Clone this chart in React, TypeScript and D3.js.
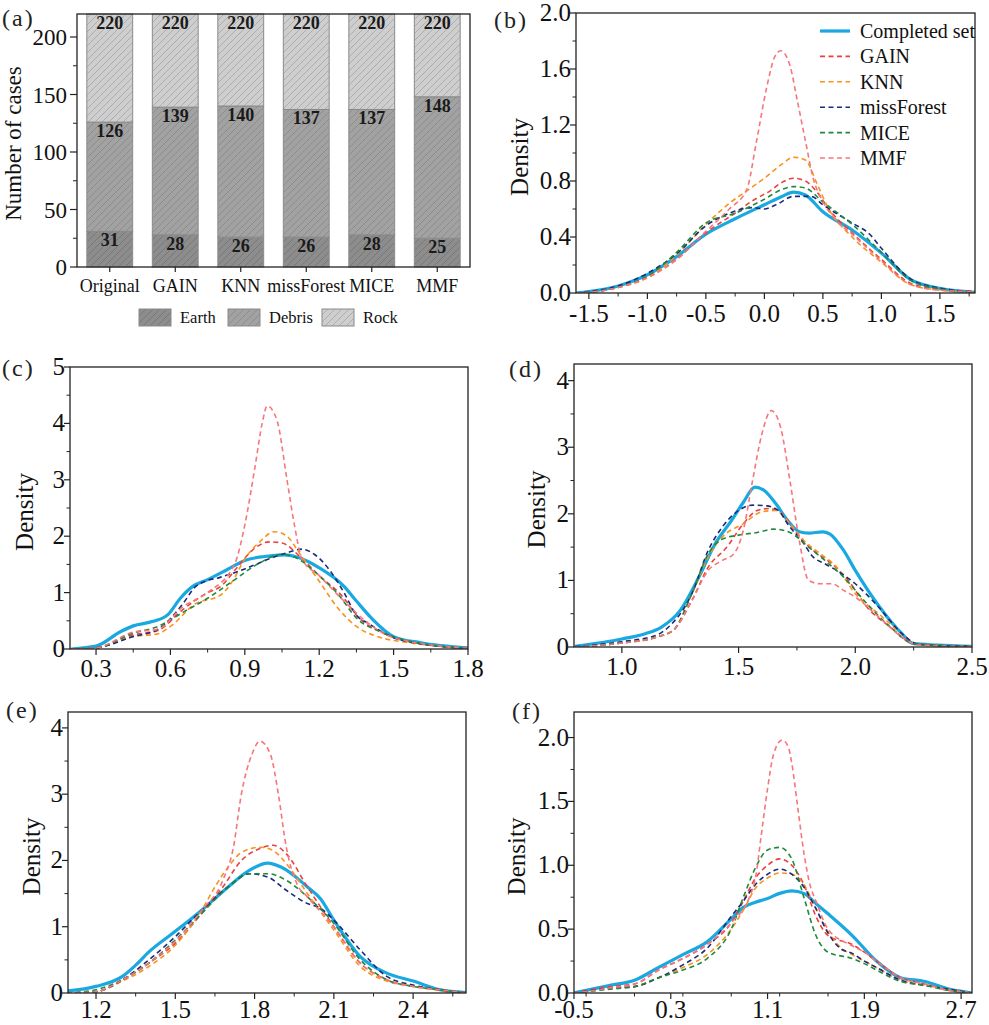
import React from "react";
import * as d3 from "d3";

type P = [number, number];

// ---------- Panel (a) data ----------
const methods = ["Original", "GAIN", "KNN", "missForest", "MICE", "MMF"];
const earthCounts = [31, 28, 26, 26, 28, 25];
const debrisCumulative = [126, 139, 140, 137, 137, 148];
const totalCounts = [220, 220, 220, 220, 220, 220];
const barLegend = ["Earth", "Debris", "Rock"];

// ---------- Density series ----------
const seriesNames = ["Completed set", "GAIN", "KNN", "missForest", "MICE", "MMF"];

const bCompleted: P[] = [[-1.61,0],[-1.5,0.01],[-1.25,0.05],[-1.0,0.13],[-0.75,0.26],[-0.5,0.42],[-0.25,0.53],[0,0.63],[0.15,0.69],[0.25,0.72],[0.35,0.7],[0.5,0.58],[0.75,0.45],[1.0,0.285],[1.25,0.095],[1.5,0.033],[1.8,0.005]];
const bGain: P[] = [[-1.61,0],[-1.5,0.005],[-1.25,0.04],[-1.0,0.11],[-0.75,0.24],[-0.5,0.43],[-0.25,0.57],[-0.1,0.66],[0.05,0.73],[0.15,0.79],[0.25,0.82],[0.35,0.8],[0.45,0.72],[0.55,0.6],[0.75,0.43],[1.0,0.24],[1.25,0.07],[1.5,0.025],[1.8,0.01]];
const bKnn: P[] = [[-1.61,0],[-1.5,0.005],[-1.25,0.04],[-1.0,0.11],[-0.75,0.27],[-0.5,0.49],[-0.3,0.64],[-0.15,0.73],[0,0.82],[0.15,0.92],[0.25,0.97],[0.35,0.95],[0.45,0.78],[0.55,0.6],[0.75,0.4],[1.0,0.22],[1.25,0.06],[1.5,0.02],[1.8,0.005]];
const bMissForest: P[] = [[-1.61,0],[-1.5,0.01],[-1.25,0.05],[-1.0,0.14],[-0.75,0.28],[-0.5,0.48],[-0.3,0.57],[-0.1,0.61],[0.0,0.6],[0.1,0.63],[0.25,0.69],[0.4,0.69],[0.5,0.63],[0.75,0.5],[0.9,0.42],[1.0,0.32],[1.25,0.1],[1.5,0.035],[1.8,0.01]];
const bMice: P[] = [[-1.61,0],[-1.5,0.005],[-1.25,0.04],[-1.0,0.12],[-0.75,0.29],[-0.5,0.5],[-0.25,0.57],[0,0.67],[0.15,0.74],[0.25,0.76],[0.35,0.75],[0.5,0.65],[0.75,0.49],[1.0,0.29],[1.25,0.09],[1.5,0.03],[1.8,0.005]];
const bMmf: P[] = [[-1.61,0],[-1.5,0.005],[-1.25,0.04],[-1.0,0.11],[-0.75,0.24],[-0.5,0.44],[-0.3,0.6],[-0.15,0.74],[-0.07,1.07],[0.02,1.47],[0.09,1.69],[0.14,1.73],[0.22,1.62],[0.28,1.38],[0.35,1.09],[0.42,0.81],[0.49,0.67],[0.6,0.53],[0.75,0.42],[1.0,0.23],[1.25,0.06],[1.5,0.02],[1.8,0.01]];

const cCompleted: P[] = [[0.2,0],[0.3,0.05],[0.4,0.31],[0.45,0.41],[0.53,0.49],[0.59,0.61],[0.64,0.9],[0.69,1.11],[0.75,1.23],[0.83,1.41],[0.9,1.57],[0.98,1.64],[1.06,1.67],[1.11,1.63],[1.2,1.44],[1.3,1.11],[1.35,0.85],[1.41,0.55],[1.5,0.22],[1.61,0.11],[1.8,0.02]];
const cGain: P[] = [[0.2,0],[0.3,0.02],[0.45,0.25],[0.55,0.33],[0.65,0.7],[0.75,1.0],[0.8,1.1],[0.87,1.45],[0.93,1.75],[1.0,1.9],[1.05,1.88],[1.12,1.65],[1.2,1.3],[1.3,0.9],[1.35,0.6],[1.45,0.3],[1.55,0.15],[1.8,0.01]];
const cKnn: P[] = [[0.2,0],[0.3,0.02],[0.45,0.22],[0.55,0.27],[0.6,0.4],[0.7,0.8],[0.8,0.95],[0.85,1.2],[0.9,1.6],[0.96,1.9],[1.02,2.08],[1.07,2.0],[1.12,1.7],[1.2,1.2],[1.28,0.7],[1.35,0.4],[1.45,0.2],[1.55,0.12],[1.8,0.01]];
const cMissForest: P[] = [[0.2,0],[0.3,0.02],[0.45,0.22],[0.55,0.35],[0.65,0.8],[0.7,1.1],[0.74,1.2],[0.8,1.27],[0.9,1.42],[1.0,1.6],[1.08,1.72],[1.13,1.77],[1.18,1.68],[1.25,1.35],[1.3,1.0],[1.35,0.6],[1.4,0.45],[1.5,0.2],[1.6,0.1],[1.8,0.01]];
const cMice: P[] = [[0.2,0],[0.3,0.02],[0.45,0.28],[0.55,0.4],[0.65,0.65],[0.75,0.9],[0.85,1.2],[0.95,1.5],[1.05,1.68],[1.1,1.63],[1.2,1.3],[1.28,0.95],[1.35,0.55],[1.45,0.3],[1.55,0.15],[1.8,0.01]];
const cMmf: P[] = [[0.2,0],[0.3,0.02],[0.45,0.3],[0.55,0.35],[0.65,0.75],[0.75,1.0],[0.86,1.52],[0.9,2.2],[0.94,3.2],[0.97,4.0],[0.99,4.31],[1.03,4.05],[1.07,3.0],[1.1,2.2],[1.13,1.6],[1.2,1.3],[1.3,0.85],[1.4,0.45],[1.5,0.2],[1.8,0.01]];

const dCompleted: P[] = [[0.8,0.01],[1.0,0.12],[1.1,0.2],[1.17,0.3],[1.25,0.55],[1.33,1.05],[1.4,1.55],[1.47,1.9],[1.52,2.17],[1.57,2.4],[1.61,2.35],[1.66,2.15],[1.71,1.9],[1.76,1.73],[1.8,1.71],[1.86,1.73],[1.89,1.7],[1.95,1.45],[2.0,1.15],[2.1,0.62],[2.2,0.2],[2.25,0.05],[2.35,0.03],[2.5,0.01]];
const dGain: P[] = [[0.8,0],[1.0,0.06],[1.15,0.15],[1.22,0.25],[1.3,0.7],[1.37,1.2],[1.45,1.5],[1.52,1.85],[1.58,2.05],[1.63,2.08],[1.7,1.95],[1.75,1.7],[1.82,1.45],[1.9,1.25],[1.97,1.0],[2.05,0.6],[2.15,0.3],[2.25,0.05],[2.5,0.005]];
const dKnn: P[] = [[0.8,0],[1.0,0.06],[1.15,0.15],[1.22,0.25],[1.3,0.8],[1.37,1.35],[1.43,1.65],[1.52,1.85],[1.6,2.03],[1.66,2.05],[1.72,1.85],[1.78,1.6],[1.85,1.4],[1.92,1.2],[2.0,0.8],[2.1,0.5],[2.2,0.2],[2.27,0.04],[2.5,0.005]];
const dMissForest: P[] = [[0.8,0.005],[1.0,0.08],[1.15,0.18],[1.2,0.3],[1.3,0.8],[1.37,1.45],[1.43,1.8],[1.5,2.05],[1.56,2.13],[1.62,2.12],[1.67,2.05],[1.72,1.8],[1.77,1.6],[1.82,1.35],[1.87,1.25],[1.92,1.15],[2.0,0.95],[2.1,0.6],[2.2,0.2],[2.27,0.04],[2.5,0.01]];
const dMice: P[] = [[0.8,0],[1.0,0.06],[1.15,0.15],[1.22,0.25],[1.3,0.8],[1.37,1.4],[1.43,1.62],[1.5,1.68],[1.58,1.72],[1.65,1.77],[1.72,1.72],[1.8,1.5],[1.87,1.3],[1.95,1.05],[2.05,0.65],[2.15,0.3],[2.25,0.05],[2.5,0.005]];
const dMmf: P[] = [[0.8,0],[1.0,0.06],[1.15,0.15],[1.22,0.25],[1.3,0.7],[1.37,1.15],[1.43,1.3],[1.48,1.4],[1.52,1.75],[1.56,2.5],[1.6,3.2],[1.64,3.55],[1.68,3.3],[1.72,2.5],[1.76,1.6],[1.8,1.0],[1.85,0.95],[1.9,0.95],[1.95,0.85],[2.0,0.75],[2.1,0.45],[2.2,0.15],[2.27,0.03],[2.5,0.005]];

const eCompleted: P[] = [[1.09,0.03],[1.2,0.1],[1.3,0.25],[1.35,0.42],[1.4,0.62],[1.5,0.93],[1.6,1.25],[1.7,1.6],[1.78,1.85],[1.85,1.96],[1.9,1.9],[2.0,1.6],[2.05,1.42],[2.1,1.1],[2.2,0.55],[2.3,0.3],[2.4,0.18],[2.5,0.05],[2.6,0.005]];
const eGain: P[] = [[1.09,0],[1.2,0.02],[1.3,0.2],[1.4,0.45],[1.5,0.75],[1.6,1.2],[1.68,1.6],[1.75,2.0],[1.82,2.18],[1.87,2.23],[1.92,2.1],[2.0,1.6],[2.1,1.0],[2.2,0.45],[2.3,0.2],[2.4,0.1],[2.5,0.05],[2.6,0]];
const eKnn: P[] = [[1.09,0],[1.2,0.02],[1.3,0.18],[1.4,0.4],[1.5,0.72],[1.6,1.25],[1.65,1.6],[1.7,1.9],[1.75,2.12],[1.82,2.2],[1.87,2.15],[1.93,1.9],[2.0,1.5],[2.1,0.95],[2.2,0.4],[2.3,0.18],[2.4,0.1],[2.5,0.04],[2.6,0]];
const eMissForest: P[] = [[1.09,0],[1.2,0.02],[1.3,0.2],[1.4,0.5],[1.5,0.85],[1.6,1.25],[1.7,1.6],[1.78,1.8],[1.85,1.75],[1.92,1.55],[2.0,1.35],[2.05,1.28],[2.1,1.1],[2.2,0.65],[2.3,0.25],[2.4,0.12],[2.5,0.05],[2.6,0]];
const eMice: P[] = [[1.09,0],[1.2,0.05],[1.3,0.2],[1.4,0.45],[1.5,0.8],[1.6,1.2],[1.7,1.6],[1.78,1.8],[1.85,1.8],[1.92,1.7],[2.0,1.45],[2.1,1.05],[2.2,0.5],[2.3,0.2],[2.4,0.1],[2.5,0.05],[2.6,0]];
const eMmf: P[] = [[1.09,0],[1.2,0.02],[1.3,0.2],[1.4,0.45],[1.5,0.78],[1.6,1.25],[1.68,1.7],[1.72,2.2],[1.75,3.0],[1.79,3.6],[1.82,3.8],[1.86,3.6],[1.89,3.0],[1.92,2.2],[1.96,1.65],[2.0,1.45],[2.1,1.0],[2.2,0.45],[2.3,0.2],[2.4,0.1],[2.5,0.05],[2.6,0]];

const fCompleted: P[] = [[-0.5,0],[-0.2,0.06],[0.0,0.1],[0.2,0.2],[0.4,0.3],[0.6,0.4],[0.8,0.58],[0.9,0.67],[1.0,0.71],[1.1,0.74],[1.2,0.78],[1.3,0.8],[1.4,0.78],[1.5,0.7],[1.6,0.62],[1.8,0.45],[2.0,0.25],[2.2,0.12],[2.4,0.09],[2.6,0.03],[2.79,0]];
const fGain: P[] = [[-0.5,0],[-0.2,0.05],[0.0,0.07],[0.2,0.18],[0.4,0.27],[0.6,0.38],[0.8,0.55],[0.9,0.72],[1.0,0.9],[1.1,1.0],[1.2,1.05],[1.3,1.0],[1.4,0.85],[1.5,0.6],[1.6,0.45],[1.8,0.38],[1.9,0.32],[2.0,0.25],[2.2,0.12],[2.4,0.07],[2.6,0.02],[2.79,0]];
const fKnn: P[] = [[-0.5,0],[-0.2,0.04],[0.0,0.05],[0.2,0.12],[0.4,0.2],[0.6,0.3],[0.8,0.5],[0.9,0.65],[1.0,0.82],[1.1,0.9],[1.2,0.94],[1.3,0.93],[1.4,0.85],[1.5,0.66],[1.6,0.48],[1.7,0.36],[1.8,0.3],[1.9,0.25],[2.0,0.2],[2.2,0.1],[2.4,0.06],[2.6,0.03],[2.79,0]];
const fMissForest: P[] = [[-0.5,0],[-0.2,0.04],[0.0,0.05],[0.2,0.12],[0.4,0.22],[0.6,0.35],[0.8,0.6],[0.9,0.72],[1.0,0.85],[1.1,0.93],[1.2,0.97],[1.3,0.93],[1.4,0.83],[1.5,0.66],[1.6,0.47],[1.7,0.35],[1.8,0.31],[1.9,0.25],[2.0,0.2],[2.2,0.1],[2.4,0.06],[2.6,0.03],[2.79,0]];
const fMice: P[] = [[-0.5,0],[-0.2,0.03],[0.0,0.05],[0.2,0.12],[0.4,0.18],[0.6,0.27],[0.8,0.5],[0.9,0.75],[1.0,0.98],[1.1,1.12],[1.2,1.14],[1.3,1.05],[1.4,0.75],[1.5,0.45],[1.6,0.32],[1.8,0.27],[1.9,0.23],[2.0,0.18],[2.2,0.09],[2.4,0.06],[2.6,0.02],[2.79,0]];
const fMmf: P[] = [[-0.5,0],[-0.2,0.04],[0.0,0.07],[0.2,0.18],[0.4,0.27],[0.6,0.38],[0.8,0.55],[0.95,0.75],[1.0,0.9],[1.05,1.25],[1.1,1.6],[1.15,1.87],[1.22,1.98],[1.27,1.93],[1.3,1.8],[1.35,1.45],[1.4,1.1],[1.45,0.85],[1.5,0.72],[1.6,0.5],[1.8,0.37],[1.9,0.32],[2.0,0.25],[2.2,0.12],[2.4,0.07],[2.6,0.02],[2.79,0]];

// ---------- Styles ----------
const FONT = "'Liberation Serif', 'Times New Roman', serif";
const seriesColors = ["#19a8e0", "#e9413f", "#f7931e", "#1c2a7c", "#1e8a3c", "#f7757b"];
const barFills = ["#8d8d8d", "#a2a2a2", "#cecece"];
const hatchStrokes = ["#727272", "#868686", "#a6a6a6"];

interface PanelCfg {
  label: string;
  box: { l: number; r: number; t: number; b: number };
  labelPos: [number, number];
  titleX: number;
  xDomain: [number, number];
  yDomain: [number, number];
  xTicks: [number, number, number];
  xMinorStep: number;
  yTicks: [number, number, number];
  yMinorStep: number;
  yFmt: (v: number) => string;
  series: P[][];
  legend?: boolean;
  xLabelDy: number;
}

const fmt1 = (v: number) => (Math.abs(v) < 1e-9 ? "0.0" : v.toFixed(1));
const fmt0 = (v: number) => d3.format("d")(Math.round(v));

const panels: PanelCfg[] = [
  {
    label: "(b)", box: { l: 576, r: 975, t: 13, b: 293 }, labelPos: [494, 28], titleX: 522,
    xDomain: [-1.61, 1.8], yDomain: [0, 2.0], xTicks: [-1.5, 1.5, 0.5], xMinorStep: 0.25,
    yTicks: [0, 2.0, 0.4], yMinorStep: 0.2, yFmt: fmt1,
    series: [bCompleted, bGain, bKnn, bMissForest, bMice, bMmf], legend: true, xLabelDy: 29,
  },
  {
    label: "(c)", box: { l: 70, r: 468, t: 367, b: 649 }, labelPos: [2, 376], titleX: 27,
    xDomain: [0.195, 1.8], yDomain: [0, 5], xTicks: [0.3, 1.8, 0.3], xMinorStep: 0.15,
    yTicks: [0, 5, 1], yMinorStep: 0.5, yFmt: fmt0,
    series: [cCompleted, cGain, cKnn, cMissForest, cMice, cMmf], xLabelDy: 28,
  },
  {
    label: "(d)", box: { l: 574, r: 972, t: 364, b: 647 }, labelPos: [509, 377], titleX: 539,
    xDomain: [0.795, 2.5], yDomain: [0, 4.25], xTicks: [1.0, 2.5, 0.5], xMinorStep: 0.25,
    yTicks: [0, 4, 1], yMinorStep: 0.5, yFmt: fmt0,
    series: [dCompleted, dGain, dKnn, dMissForest, dMice, dMmf], xLabelDy: 28,
  },
  {
    label: "(e)", box: { l: 68, r: 466, t: 712, b: 993 }, labelPos: [6, 718], titleX: 34,
    xDomain: [1.094, 2.6], yDomain: [0, 4.24], xTicks: [1.2, 2.4, 0.3], xMinorStep: 0.15,
    yTicks: [0, 4, 1], yMinorStep: 0.5, yFmt: fmt0,
    series: [eCompleted, eGain, eKnn, eMissForest, eMice, eMmf], xLabelDy: 25,
  },
  {
    label: "(f)", box: { l: 574, r: 972, t: 712, b: 993 }, labelPos: [512, 719], titleX: 519,
    xDomain: [-0.5, 2.79], yDomain: [0, 2.2], xTicks: [-0.5, 2.7, 0.8], xMinorStep: 0.4,
    yTicks: [0, 2.0, 0.5], yMinorStep: 0.25, yFmt: fmt1,
    series: [fCompleted, fGain, fKnn, fMissForest, fMice, fMmf], xLabelDy: 25,
  },
];

const rangeInc = (a: number, b: number, s: number) => d3.range(a, b + s * 1e-6, s).map((v) => Math.round(v * 1e6) / 1e6);

function DensityPanel({ cfg, idx }: { cfg: PanelCfg; idx: number }) {
  const { l, r, t, b } = cfg.box;
  const x = d3.scaleLinear().domain(cfg.xDomain).range([l, r]);
  const y = d3.scaleLinear().domain(cfg.yDomain).range([b, t]);
  const line = d3.line<P>().x((d) => x(d[0])).y((d) => y(d[1])).curve(d3.curveMonotoneX);
  const xMajor = rangeInc(cfg.xTicks[0], cfg.xTicks[1], cfg.xTicks[2]);
  const yMajor = rangeInc(cfg.yTicks[0], cfg.yTicks[1], cfg.yTicks[2]);
  const xMinor = rangeInc(Math.ceil(cfg.xDomain[0] / cfg.xMinorStep) * cfg.xMinorStep, cfg.xDomain[1], cfg.xMinorStep)
    .filter((v) => !xMajor.some((m) => Math.abs(m - v) < 1e-6) && v >= cfg.xDomain[0] && v <= cfg.xDomain[1]);
  const yMinor = rangeInc(0, cfg.yDomain[1], cfg.yMinorStep).filter((v) => !yMajor.some((m) => Math.abs(m - v) < 1e-6));
  const clipId = `clip-${idx}`;
  return (
    <g>
      <defs>
        <clipPath id={clipId}>
          <rect x={l} y={t} width={r - l} height={b - t} />
        </clipPath>
      </defs>
      <g clipPath={`url(#${clipId})`}>
        {[0, 1, 2, 3, 4, 5].map((i) => (
          <path
            key={i}
            d={line(cfg.series[i]) || ""}
            fill="none"
            stroke={seriesColors[i]}
            strokeWidth={i === 0 ? 3.2 : 1.6}
            strokeDasharray={i === 0 ? undefined : "5,3.5"}
            strokeLinejoin="round"
          />
        ))}
      </g>
      <rect x={l} y={t} width={r - l} height={b - t} fill="none" stroke="#222" strokeWidth={1.3} />
      {xMajor.map((v) => (
        <g key={"xm" + v}>
          <line x1={x(v)} x2={x(v)} y1={b} y2={b + 6} stroke="#222" strokeWidth={1.2} />
          <text x={x(v)} y={b + cfg.xLabelDy} textAnchor="middle" fontSize={25} fontFamily={FONT} fill="#111">
            {fmt1(v)}
          </text>
        </g>
      ))}
      {xMinor.map((v) => (
        <line key={"xn" + v} x1={x(v)} x2={x(v)} y1={b} y2={b + 3.5} stroke="#222" strokeWidth={1} />
      ))}
      {yMajor.map((v) => (
        <g key={"ym" + v}>
          <line x1={l - 6} x2={l} y1={y(v)} y2={y(v)} stroke="#222" strokeWidth={1.2} />
          <text x={l - 5} y={y(v) + 8} textAnchor="end" fontSize={25} fontFamily={FONT} fill="#111">
            {cfg.yFmt(v)}
          </text>
        </g>
      ))}
      {yMinor.map((v) => (
        <line key={"yn" + v} x1={l - 3.5} x2={l} y1={y(v)} y2={y(v)} stroke="#222" strokeWidth={1} />
      ))}
      <text
        transform={`translate(${cfg.titleX},${(t + b) / 2 + 4}) rotate(-90)`}
        textAnchor="middle"
        dominantBaseline="middle"
        fontSize={25}
        fontFamily={FONT}
        fill="#111"
      >
        Density
      </text>
      <text x={cfg.labelPos[0]} y={cfg.labelPos[1]} fontSize={24} fontFamily={FONT} fill="#222" letterSpacing={2}>
        {cfg.label}
      </text>
      {cfg.legend &&
        seriesNames.map((name, i) => {
          const ly = 31 + i * 25.4;
          return (
            <g key={name}>
              <line
                x1={820}
                x2={850}
                y1={ly}
                y2={ly}
                stroke={seriesColors[i]}
                strokeWidth={i === 0 ? 3.2 : 1.6}
                strokeDasharray={i === 0 ? undefined : "5,3.5"}
              />
              <text x={860} y={ly + 7} fontSize={20} fontFamily={FONT} fill="#111">
                {name}
              </text>
            </g>
          );
        })}
    </g>
  );
}

function BarPanel() {
  const l = 77, r = 470, t = 14, b = 267;
  const x = d3.scaleBand<string>().domain(methods).range([l, r]).paddingInner(0.3).paddingOuter(0.15);
  const y = d3.scaleLinear().domain([0, 220]).range([b, t]);
  const rows = methods.map((m, i) => ({ m, earth: earthCounts[i], debris: debrisCumulative[i] - earthCounts[i], rock: totalCounts[i] - debrisCumulative[i] }));
  const stack = d3.stack<any>().keys(["earth", "debris", "rock"])(rows);
  const cumLabels = [earthCounts, debrisCumulative, totalCounts];
  const yMajor = d3.range(0, 201, 50);
  const yMinor = d3.range(25, 220, 50);
  return (
    <g>
      <defs>
        {barFills.map((f, i) => (
          <pattern key={i} id={`hatch${i}`} width={7} height={7} patternUnits="userSpaceOnUse">
            <rect width={7} height={7} fill={f} />
            <path d="M0,7 L7,0 M-1.5,1.5 L1.5,-1.5 M5.5,8.5 L8.5,5.5" stroke={hatchStrokes[i]} strokeWidth={0.8} />
          </pattern>
        ))}
      </defs>
      {stack.map((layer, li) =>
        layer.map((seg, i) => (
          <rect
            key={li + "-" + i}
            x={x(methods[i])}
            y={y(seg[1])}
            width={x.bandwidth()}
            height={y(seg[0]) - y(seg[1])}
            fill={`url(#hatch${li})`}
            stroke="#8a8a8a"
            strokeWidth={1}
          />
        ))
      )}
      {cumLabels.map((arr, li) =>
        arr.map((v, i) => (
          <text
            key={"lb" + li + i}
            x={(x(methods[i]) || 0) + x.bandwidth() / 2}
            y={y(v) + 15}
            textAnchor="middle"
            fontSize={18}
            fontWeight="bold"
            fontFamily={FONT}
            fill="#1a1a1a"
          >
            {v}
          </text>
        ))
      )}
      <rect x={l} y={t} width={r - l} height={b - t} fill="none" stroke="#222" strokeWidth={1.3} />
      {yMajor.map((v) => (
        <g key={"y" + v}>
          <line x1={l - 7} x2={l} y1={y(v)} y2={y(v)} stroke="#222" strokeWidth={1.2} />
          <text x={l - 10} y={y(v) + 8} textAnchor="end" fontSize={23} fontFamily={FONT} fill="#111">
            {v}
          </text>
        </g>
      ))}
      {yMinor.map((v) => (
        <line key={"yn" + v} x1={l - 4} x2={l} y1={y(v)} y2={y(v)} stroke="#222" strokeWidth={1} />
      ))}
      {methods.map((m) => (
        <g key={"x" + m}>
          <line x1={(x(m) || 0) + x.bandwidth() / 2} x2={(x(m) || 0) + x.bandwidth() / 2} y1={b} y2={b + 5} stroke="#222" strokeWidth={1.2} />
          <text x={(x(m) || 0) + x.bandwidth() / 2} y={b + 25} textAnchor="middle" fontSize={18} fontFamily={FONT} fill="#111">
            {m}
          </text>
        </g>
      ))}
      <text
        transform={`translate(16,${(t + b) / 2 + 3}) rotate(-90)`}
        textAnchor="middle"
        dominantBaseline="middle"
        fontSize={23}
        fontFamily={FONT}
        fill="#111"
      >
        Number of cases
      </text>
      <text x={2} y={26} fontSize={24} fontFamily={FONT} fill="#222" letterSpacing={2}>
        (a)
      </text>
      {barLegend.map((name, i) => {
        const bx = [139, 228, 322][i];
        return (
          <g key={name}>
            <rect x={bx} y={309} width={32} height={17} fill={`url(#hatch${i})`} stroke="#8a8a8a" strokeWidth={1} />
            <text x={bx + 41} y={323} fontSize={16.5} fontFamily={FONT} fill="#111">
              {name}
            </text>
          </g>
        );
      })}
    </g>
  );
}

export default function App() {
  return (
    <svg
      width={989}
      height={1025}
      viewBox="0 0 989 1025"
      style={{ position: "absolute", left: 0, top: 0, background: "#fff" }}
    >
      <rect width={989} height={1025} fill="#fff" />
      <BarPanel />
      {panels.map((p, i) => (
        <DensityPanel key={p.label} cfg={p} idx={i} />
      ))}
    </svg>
  );
}
